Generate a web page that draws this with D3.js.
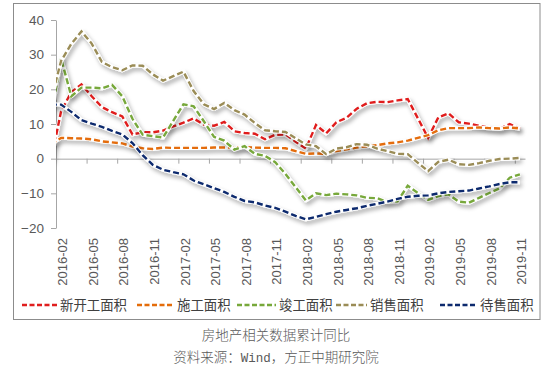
<!DOCTYPE html>
<html>
<head>
<meta charset="utf-8">
<script src="https://cdn.jsdelivr.net/npm/d3@7"></script>
<style>
  body { margin: 0; background: #fff; }
  svg { display: block; }
</style>
</head>
<body>
<div id="container"></div>
<script>
// months (2016-01 is only the lead-in point that gets clipped at the axis)
var months = ["2016-01","2016-02","2016-03","2016-04","2016-05","2016-06","2016-07","2016-08","2016-09","2016-10","2016-11","2016-12",
  "2017-01","2017-02","2017-03","2017-04","2017-05","2017-06","2017-07","2017-08","2017-09","2017-10","2017-11","2017-12",
  "2018-01","2018-02","2018-03","2018-04","2018-05","2018-06","2018-07","2018-08","2018-09","2018-10","2018-11","2018-12",
  "2019-01","2019-02","2019-03","2019-04","2019-05","2019-06","2019-07","2019-08","2019-09","2019-10","2019-11"];

var tickLabels = ["2016-02","2016-05","2016-08","2016-11","2017-02","2017-05","2017-08","2017-11",
  "2018-02","2018-05","2018-08","2018-11","2019-02","2019-05","2019-08","2019-11"];

var yTicks = [-20, -10, 0, 10, 20, 30, 40];

var seriesNames = ["新开工面积", "施工面积", "竣工面积", "销售面积", "待售面积"];

var newStart = [-0.7,
  13.7,19.2,21.4,18.0,14.9,13.4,12.2,7.0,7.6,7.6,8.1,
  9.3,10.4,11.6,9.8,9.5,10.6,7.9,7.4,7.2,5.6,6.9,7.0,
  4.9,2.9,9.7,7.3,10.5,11.8,14.4,16.0,16.4,16.3,16.8,17.2,
  11.6,6.0,11.9,13.1,10.5,10.1,9.5,8.9,8.6,10.0,8.6];

var underConstruction = [4.2,
  6.0,5.9,5.8,5.6,5.0,4.7,4.4,3.5,3.0,2.8,3.2,
  3.1,3.1,3.1,3.1,3.2,3.2,3.3,3.3,3.2,3.1,3.1,3.0,
  2.2,1.4,1.5,1.4,2.2,2.7,3.2,3.6,3.9,4.4,4.7,5.2,
  6.0,6.8,8.2,8.8,8.8,8.8,9.0,8.8,8.7,9.0,8.7];

var completed = [11.7,
  28.9,18.0,20.5,20.5,20.3,21.3,18.0,11.5,6.9,6.5,6.1,
  10.9,15.7,15.1,10.8,6.3,5.2,2.6,3.6,1.4,0.8,-1.0,-4.4,
  -8.2,-12.0,-10.0,-10.5,-10.1,-10.3,-10.6,-11.3,-11.4,-12.5,-12.3,-7.8,
  -9.9,-11.9,-10.8,-10.3,-12.4,-12.7,-11.3,-9.9,-8.6,-5.5,-4.5];

var sold = [16.8,
  28.2,33.1,36.7,33.2,27.9,26.4,25.5,26.9,26.8,24.3,22.5,
  23.8,25.1,19.5,15.7,14.3,16.1,14.0,12.7,10.3,8.2,7.9,7.7,
  5.9,4.1,3.6,1.3,2.9,3.3,4.2,4.0,2.9,2.2,1.4,1.3,
  -1.2,-3.6,-0.9,-0.3,-1.6,-1.8,-1.3,-0.6,-0.1,0.0,0.2];

var forSale = [15.6,
  15.6,13.5,11.1,10.1,9.2,8.0,7.0,4.5,1.0,-1.8,-3.2,
  -3.9,-4.5,-6.3,-7.4,-8.5,-9.6,-11.0,-12.2,-12.6,-13.5,-14.2,-15.3,
  -16.5,-17.5,-16.8,-16.0,-15.3,-14.8,-14.3,-13.6,-13.0,-12.4,-11.6,-11.0,
  -10.7,-10.6,-10.0,-9.6,-9.4,-9.2,-8.6,-8.0,-7.3,-6.8,-6.8];

var seriesData = [newStart, underConstruction, completed, sold, forSale];
var colors = ["#e01e1e", "#e46c0a", "#77a83a", "#9a8c56", "#0d2a6e"];

var width = 550, height = 374;
var plot = {left: 56, right: 525, top: 20, bottom: 228};
var textColor = "#595959";

var svg = d3.select("#container").append("svg")
  .attr("width", width).attr("height", height);

var defs = svg.append("defs");
defs.append("clipPath").attr("id", "plotclip")
  .append("rect").attr("x", plot.left).attr("y", 0)
  .attr("width", width - plot.left).attr("height", height);

// soft drop shadow like the excel line effect
var f = defs.append("filter").attr("id", "shadow")
  .attr("x", "-10%").attr("y", "-10%").attr("width", "120%").attr("height", "130%");
f.append("feGaussianBlur").attr("in", "SourceAlpha").attr("stdDeviation", 2).attr("result", "blur");
f.append("feOffset").attr("in", "blur").attr("dx", 2).attr("dy", 3).attr("result", "off");
f.append("feFlood").attr("flood-color", "#000").attr("flood-opacity", 0.33);
f.append("feComposite").attr("in2", "off").attr("operator", "in").attr("result", "sh");
var fm = f.append("feMerge");
fm.append("feMergeNode").attr("in", "sh");
fm.append("feMergeNode").attr("in", "SourceGraphic");

// outer frame
svg.append("rect")
  .attr("x", 13.5).attr("y", 3.5).attr("width", 526.5).attr("height", 316)
  .attr("fill", "none").attr("stroke", "#8c8c8c").attr("stroke-width", 1);

// scales
var x = d3.scaleLinear().domain([0.5, months.length - 0.5]).range([plot.left, plot.right]);
var y = d3.scaleLinear().domain([-20, 40]).range([plot.bottom, plot.top]);

// y axis
var yAxis = svg.append("g")
  .attr("transform", "translate(" + plot.left + ",0)")
  .call(d3.axisLeft(y).tickValues(yTicks).tickSize(5).tickSizeOuter(0).tickPadding(7));
yAxis.select(".domain").attr("stroke", "#a6a6a6");
yAxis.selectAll(".tick line").attr("stroke", "#a6a6a6");
yAxis.selectAll(".tick text")
  .style("font-family", "'Liberation Sans', Arial, sans-serif")
  .style("font-size", "13.5px").attr("fill", textColor);

// x axis at zero, tick marks between categories every 3 months
var labelIdx = tickLabels.map(function(t) { return months.indexOf(t); });
var xAxis = svg.append("g")
  .attr("transform", "translate(0," + y(0) + ")")
  .call(d3.axisBottom(x).tickValues(labelIdx.map(function(i) { return i - 0.5; }))
    .tickFormat("").tickSize(5).tickSizeOuter(0));
xAxis.select(".domain").attr("stroke", "#a6a6a6");
xAxis.selectAll(".tick line").attr("stroke", "#a6a6a6");

// x labels low, rotated
svg.append("g").selectAll("text")
  .data(tickLabels)
  .enter().append("text")
  .attr("transform", function(d) { return "translate(" + (x(months.indexOf(d)) + 1.5) + "," + (plot.bottom + 10) + ") rotate(-90)"; })
  .attr("text-anchor", "end")
  .attr("dy", "0.36em")
  .style("font-family", "'Liberation Sans', Arial, sans-serif")
  .style("font-size", "13px")
  .attr("fill", textColor)
  .text(function(d) { return d; });

// lines
var line = d3.line()
  .x(function(d, i) { return x(i); })
  .y(function(d) { return y(d); });

var lines = svg.append("g").attr("clip-path", "url(#plotclip)");
seriesData.forEach(function(vals, k) {
  var g = lines.append("g").attr("filter", "url(#shadow)");
  g.append("path").attr("d", line(vals))
    .attr("fill", "none").attr("stroke", "#fff").attr("stroke-width", 4)
    .attr("stroke-linejoin", "round");
  g.append("path").attr("d", line(vals))
    .attr("fill", "none").attr("stroke", colors[k]).attr("stroke-width", 2.4)
    .attr("stroke-dasharray", "6,3");
});

// legend
var legendDash = [22, 137, 237, 336, 440];
var legendText = [60, 177, 279, 370, 480];
var legendY = 305;
var legend = svg.append("g");
seriesNames.forEach(function(name, k) {
  legend.append("line")
    .attr("x1", legendDash[k]).attr("x2", legendText[k] - 3)
    .attr("y1", legendY).attr("y2", legendY)
    .attr("stroke", colors[k]).attr("stroke-width", 2.4)
    .attr("stroke-dasharray", "5,2.5");
  legend.append("text")
    .attr("x", legendText[k]).attr("y", legendY).attr("dy", "0.36em")
    .style("font-family", "'Noto Sans CJK SC', sans-serif")
    .style("font-size", "13.4px")
    .attr("fill", "#404040")
    .text(name);
});

// caption below the frame
svg.append("text")
  .attr("x", 276).attr("y", 335).attr("dy", "0.36em")
  .attr("text-anchor", "middle")
  .style("font-family", "'Noto Sans CJK SC', sans-serif")
  .style("font-size", "13.5px").style("font-weight", 300)
  .attr("fill", textColor)
  .text("房地产相关数据累计同比");

var src = svg.append("text")
  .attr("x", 276).attr("y", 357).attr("dy", "0.36em")
  .attr("text-anchor", "middle")
  .style("font-family", "'Noto Sans CJK SC', sans-serif")
  .style("font-size", "13.5px").style("font-weight", 300)
  .attr("fill", textColor);
src.append("tspan").text("资料来源：");
src.append("tspan").style("font-family", "'Liberation Mono', monospace").style("font-size", "12.5px").text("Wind");
src.append("tspan").text("，方正中期研究院");
</script>
</body>
</html>
